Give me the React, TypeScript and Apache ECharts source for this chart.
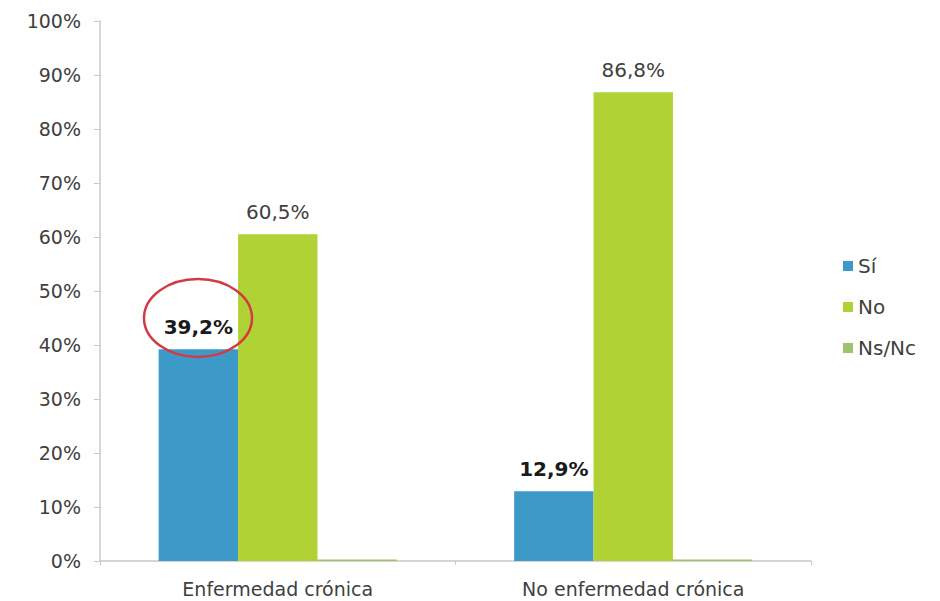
import React, { useEffect, useRef } from "react";
import * as echarts from "echarts";

const categories = ["Enfermedad crónica", "No enfermedad crónica"];
const siValues = [39.2, 12.9];
const noValues = [60.5, 86.8];
const nsncValues = [0.3, 0.3];
const seriesNames = ["Sí", "No", "Ns/Nc"];
const yTicks = [0, 10, 20, 30, 40, 50, 60, 70, 80, 90, 100];

const fmt = (v: number) => v.toFixed(1).replace(".", ",") + "%";

export default function App() {
  const ref = useRef<HTMLDivElement>(null);
  useEffect(() => {
    document.body.style.margin = "0";
    const chart = echarts.init(ref.current!, null, { renderer: "svg" });
    const font = "'DejaVu Sans', Verdana, sans-serif";
    chart.setOption({
      animation: false,
      backgroundColor: "#ffffff",
      textStyle: { fontFamily: font },
      legend: {
        orient: "vertical",
        left: 838,
        top: 251,
        itemWidth: 10,
        itemHeight: 10,
        itemGap: 21,
        icon: "rect",
        textStyle: { fontSize: 20, color: "#404040", fontFamily: font },
        data: seriesNames,
      },
      grid: { left: 100, top: 21, width: 711, height: 540 },
      xAxis: {
        type: "category",
        data: categories,
        axisLine: { lineStyle: { color: "#c8c8c8", width: 1.5 } },
        axisTick: { show: true, length: 4, interval: 0, lineStyle: { color: "#c8c8c8" } },
        axisLabel: { fontSize: 19, color: "#404040", margin: 18, fontFamily: font },
      },
      yAxis: {
        type: "value",
        min: 0,
        max: 100,
        interval: 10,
        axisLine: { show: true, lineStyle: { color: "#c8c8c8", width: 1.5 } },
        axisTick: { show: true, length: 6, lineStyle: { color: "#c8c8c8" } },
        splitLine: { show: false },
        axisLabel: {
          fontSize: 19,
          color: "#404040",
          margin: 19,
          fontFamily: font,
          formatter: (v: number) => (yTicks.includes(v) ? v + "%" : ""),
        },
      },
      series: [
        {
          name: seriesNames[0],
          type: "bar",
          data: siValues,
          barGap: "0%",
          barCategoryGap: "33%",
          itemStyle: { color: "#3d99c8" },
          label: {
            show: true,
            position: "top",
            distance: 12,
            fontSize: 20,
            fontWeight: "bold",
            color: "#1a1a1a",
            fontFamily: font,
            formatter: (p: any) => fmt(p.value),
          },
        },
        {
          name: seriesNames[1],
          type: "bar",
          data: noValues,
          barGap: "0%",
          barCategoryGap: "33%",
          itemStyle: { color: "#b1d235" },
          label: {
            show: true,
            position: "top",
            distance: 12,
            fontSize: 20,
            color: "#404040",
            fontFamily: font,
            formatter: (p: any) => fmt(p.value),
          },
        },
        {
          name: seriesNames[2],
          type: "bar",
          data: nsncValues,
          barGap: "0%",
          barCategoryGap: "33%",
          itemStyle: { color: "#9fc26a" },
        },
      ],
      graphic: [
        {
          type: "ellipse",
          shape: { cx: 198, cy: 318, rx: 54, ry: 39 },
          style: { fill: "none", stroke: "#d33a44", lineWidth: 2.5 },
          z: 100,
        },
      ],
    });
    return () => chart.dispose();
  }, []);
  return <div ref={ref} style={{ width: 940, height: 601 }} />;
}
